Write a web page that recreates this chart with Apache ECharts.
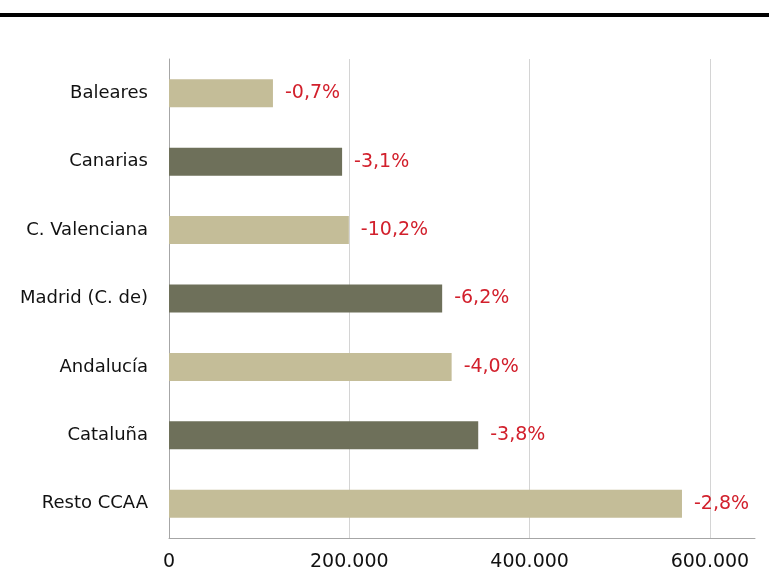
<!DOCTYPE html>
<html>
<head>
<meta charset="utf-8">
<script src="https://cdn.jsdelivr.net/npm/echarts@6/dist/echarts.min.js"></script>
<style>
  html, body { margin: 0; padding: 0; background: #fff; }
  #chart { width: 769px; height: 570px; }
</style>
</head>
<body>
<div id="chart"></div>
<script>
// categories listed bottom to top (ECharts category y axis starts at the bottom)
var regiones = ['Resto CCAA', 'Cataluña', 'Andalucía', 'Madrid (C. de)', 'C. Valenciana', 'Canarias', 'Baleares'];
var valores = [569000, 343000, 313500, 303000, 199500, 192000, 115300];
var variacion = ['-2,8%', '-3,8%', '-4,0%', '-6,2%', '-10,2%', '-3,1%', '-0,7%'];
var colores = ['#c4bd98', '#6e705a'];

var dom = document.getElementById('chart');
var chart = echarts.init(dom, null, { renderer: 'canvas' });

var barData = valores.map(function (v, i) {
    return {
        value: v,
        itemStyle: { color: colores[i % 2] }
    };
});

var option = {
    animation: false,
    textStyle: { fontFamily: 'DejaVu Sans' },
    graphic: [{
        type: 'rect',
        left: 0,
        top: 13,
        shape: { width: 769, height: 4 },
        style: { fill: '#000' }
    }],
    grid: {
        left: 169,
        right: 14,
        top: 59,
        bottom: 32,
        containLabel: false,
        outerBoundsMode: 'none'
    },
    xAxis: {
        type: 'value',
        min: 0,
        max: 650000,
        interval: 200000,
        axisLine: { show: true, lineStyle: { color: '#a6a6a6', width: 1 } },
        axisTick: { show: false },
        splitLine: { show: true, showMinLine: false, showMaxLine: false, lineStyle: { color: '#d4d4d4', width: 1 } },
        axisLabel: {
            margin: 15,
            fontSize: 19,
            color: '#111',
            showMaxLabel: false,
            formatter: function (v) {
                if (v % 200000 !== 0) return '';
                return v === 0 ? '0' : (v / 1000) + '.000';
            }
        }
    },
    yAxis: {
        type: 'category',
        data: regiones,
        axisLine: { show: true, lineStyle: { color: '#a6a6a6', width: 1 } },
        axisTick: { show: false },
        axisLabel: { margin: 21, fontSize: 18, color: '#111' }
    },
    series: [{
        type: 'bar',
        data: barData,
        barWidth: 28,
        label: {
            show: true,
            position: 'right',
            distance: 12,
            fontSize: 19,
            color: '#d2202c',
            formatter: function (p) { return variacion[p.dataIndex]; }
        }
    }]
};

chart.setOption(option);
</script>
</body>
</html>
